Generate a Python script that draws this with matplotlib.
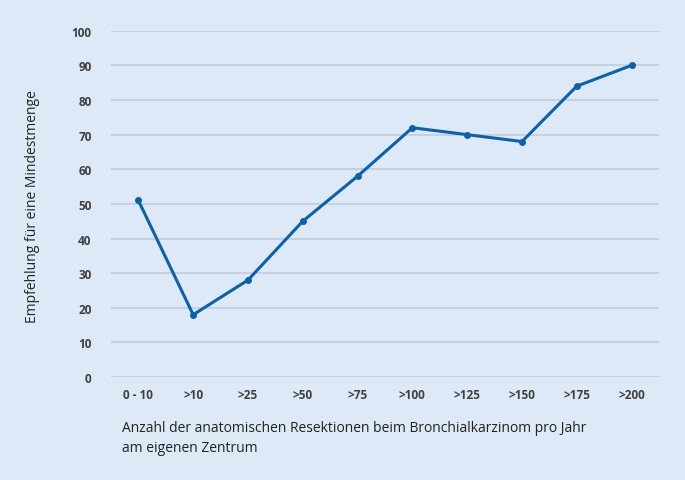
import matplotlib.pyplot as plt

categories = ["0 - 10", ">10", ">25", ">50", ">75", ">100", ">125", ">150", ">175", ">200"]
values = [51, 18, 28, 45, 58, 72, 70, 68, 84, 90]
yticks = [0, 10, 20, 30, 40, 50, 60, 70, 80, 90, 100]

bg = "#dde9f7"
blue = "#0a62ad"

plt.rcParams['font.family'] = ['Open Sans', 'DejaVu Sans']

fig = plt.figure(figsize=(6.85, 4.81), dpi=100, facecolor=bg)
ax = fig.add_axes([0.162, 0.214, 0.8, 0.72], facecolor=bg)

x = list(range(len(categories)))
ax.plot(x, values, color=blue, linewidth=2.2, marker="o", markersize=4, zorder=3)

ax.set_xlim(-0.5, len(categories) - 0.5)
ax.set_ylim(0, 100)
ax.set_yticks(yticks)
ax.set_xticks(x)
ax.set_xticklabels(categories, fontsize=8.5, fontweight="bold", color="#404040")
ax.set_yticklabels([str(t) for t in yticks], fontsize=8.5, fontweight="bold", color="#404040")
ax.grid(axis="y", color="#c5cfdb", linewidth=1.3)
ax.set_axisbelow(True)
for s in ax.spines.values():
    s.set_visible(False)
ax.tick_params(axis="x", length=0, pad=8)
ax.tick_params(axis="y", length=0, pad=14)

fig.text(0.047, 0.57, "Empfehlung für eine Mindestmenge", rotation=90,
         ha="center", va="center", fontsize=10, color="#222222")
fig.text(0.178, 0.088, "Anzahl der anatomischen Resektionen beim Bronchialkarzinom pro Jahr\nam eigenen Zentrum",
         ha="left", va="center", fontsize=10, color="#222222", linespacing=1.5)

plt.savefig("out.png", dpi=100, facecolor=bg)
